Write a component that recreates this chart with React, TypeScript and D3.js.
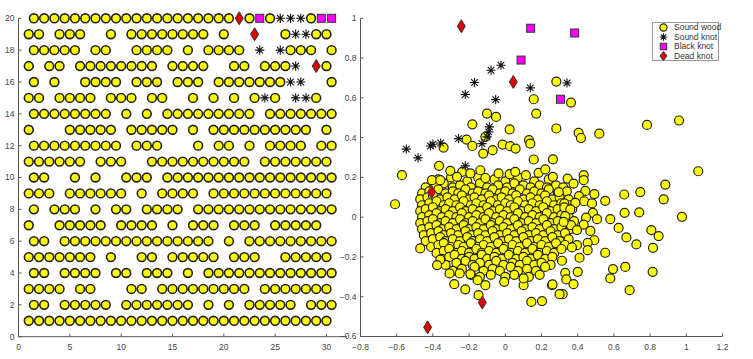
import React from 'react';
import * as d3 from 'd3';

// ---------- Left panel: grid of samples (row 20 first). start x = 1.5 for even rows, 1 for odd rows
// o = sound wood, * = sound knot, s = black knot, d = dead knot, . = empty
const gridRowNumbers = [20, 19, 18, 17, 16, 15, 14, 13, 12, 11, 10, 9, 8, 7, 6, 5, 4, 3, 2, 1];
const gridRows = [
  'oooooooooooooooooooodoso***oss',
  'oo.ooo..o.oooooooo.o..d..o**oo',
  'ooooo.oo..oooo.o.oooo.*.*ooo.o',
  'o.oo.oooooooo.oooo..oo.ooo*.do',
  'o.o..oooo.ooo.ooo.ooooooo**..o',
  'oo.oooo.ooo.oo..o.o.o.o*o.**o.',
  'oooooooo.o.o.ooooooooo.ooooooo',
  'o...ooooo.ooooo.o.oooooooooo.o',
  'ooooooooo.ooo...o.oo.o.oooo.oo',
  'oooooo.ooo..oooooooooo.ooooooo',
  'oo..o.o..ooo.ooooooooooooooooo',
  'ooo.oooooo.o.oooo.oooooooooooo',
  'o.ooo.o.oo.oooo.oooooooooooooo',
  'o..ooooo.oooo.o.ooo.ooo.ooooo.',
  'oo.ooooooooooooooo.o.ooooooooo',
  'ooooooo.o..oo.ooooo.ooo..ooooo',
  'oo.oooo.oo.ooo.o.ooooooooooooo',
  'oooo.oo...oo.ooooooooo.ooooooo',
  'oo.ooooo.ooooooo.o.o.ooooo.ooo',
  'oooooooooooooooooooooooooooooo',
];
const gridXTicks = [0, 5, 10, 15, 20, 25, 30];
const gridYTicks = [0, 2, 4, 6, 8, 10, 12, 14, 16, 18, 20];

// ---------- Right panel: scatter
const soundWoodOuter: [number, number][] = [
  [0.282,0.682],[0.157,0.593],[0.171,0.521],[-0.101,0.521],[-0.051,0.504],[-0.182,0.467],[0.282,0.446],[0.024,0.441],
  [-0.11,0.404],[-0.214,0.39],[0.131,0.387],[0.138,0.37],[-0.182,0.358],[-0.341,0.35],[-0.015,0.365],[0.026,0.357],
  [0.057,0.345],[-0.07,0.337],[-0.122,0.32],[0.157,0.29],[0.263,0.291],[-0.366,0.258],[-0.571,0.211],[-0.304,0.233],
  [-0.238,0.228],[-0.193,0.22],[-0.138,0.236],[-0.037,0.22],[0.024,0.216],[0.055,0.228],[0.114,0.211],[0.184,0.223],
  [0.221,0.24],[0.263,0.203],[-0.405,0.186],[-0.359,0.186],[-0.267,0.203],[-0.11,0.197],
  [0.363,0.576],[0.405,0.424],[0.418,0.398],[0.519,0.42],[0.783,0.464],[0.96,0.486],[1.066,0.231],[0.344,0.194],[0.433,0.211],
  [0.433,0.186],[0.377,0.169],[0.884,0.164],[0.746,0.126],[0.657,0.114],[0.875,0.09],[0.295,0.126],[0.442,0.132],
  [0.492,0.116],[0.407,0.106],[0.552,0.082],[0.436,0.08],[0.387,0.072],[0.479,0.069],[0.326,0.069],[0.326,0.049],
  [0.359,0.039],[0.484,0.022],[0.659,0.022],[0.74,0.024],[0.976,0.002],[0.58,-0.01],[0.507,-0.01],[0.446,-0.002],
  [0.331,0.005],[0.363,-0.04],[0.433,-0.037],[0.322,-0.024],[0.626,-0.054],[0.807,-0.065],[0.847,-0.095],[0.47,-0.069],
  [0.396,-0.065],[0.669,-0.102],[0.724,-0.137],[0.816,-0.154],[0.492,-0.116],[0.455,-0.129],[0.455,-0.166],[0.396,-0.141],
  [0.368,-0.152],[0.41,-0.204],[0.552,-0.179],[0.313,-0.219],[0.595,-0.261],[0.663,-0.25],[0.814,-0.275],[0.58,-0.308],
  [0.4,-0.275],[0.331,-0.28],[0.337,-0.313],[0.377,-0.337],[0.258,-0.342],[0.687,-0.367],[0.317,-0.387],
  [-0.609,0.065],[-0.47,-0.157],[-0.359,-0.213],[-0.377,-0.241],[-0.308,-0.283],[-0.252,-0.283],[-0.282,-0.337],
  [-0.221,-0.363],[-0.148,-0.392],[-0.11,-0.342],[-0.153,-0.317],[-0.193,-0.286],[-0.006,-0.325],[0.101,-0.342],
  [0.144,-0.426],[0.203,-0.422],[0.261,-0.338],[0.3,-0.387],[0.101,-0.308],
];
const soundWoodCore: [number, number][] = [
  [-0.37,0.19],[-0.3,0.2],[-0.21,0.18],[-0.15,0.2],[-0.06,0.19],[0.0,0.18],[0.07,0.2],[0.16,0.18],[0.24,0.19],
  [-0.44,0.15],[-0.39,0.16],[-0.34,0.17],[-0.29,0.15],[-0.25,0.16],[-0.19,0.15],[-0.14,0.17],[-0.1,0.15],[-0.04,0.16],
  [0.01,0.15],[0.05,0.17],[0.1,0.16],[0.14,0.15],[0.19,0.16],[0.23,0.15],[0.28,0.16],[0.32,0.15],
  [-0.46,0.12],[-0.42,0.13],[-0.37,0.14],[-0.33,0.12],[-0.29,0.13],[-0.26,0.12],[-0.22,0.14],[-0.18,0.12],[-0.15,0.13],
  [-0.11,0.12],[-0.07,0.14],[-0.03,0.12],[0.0,0.13],[0.04,0.12],[0.08,0.14],[0.12,0.12],[0.16,0.13],[0.2,0.12],
  [0.24,0.14],[0.29,0.12],[0.34,0.13],
  [-0.47,0.09],[-0.43,0.1],[-0.4,0.11],[-0.36,0.09],[-0.32,0.1],[-0.28,0.09],[-0.24,0.11],[-0.2,0.09],[-0.17,0.1],
  [-0.13,0.09],[-0.09,0.11],[-0.05,0.09],[-0.02,0.1],[0.02,0.09],[0.06,0.11],[0.1,0.09],[0.14,0.1],[0.18,0.09],
  [0.22,0.11],[0.26,0.09],[0.3,0.1],[0.35,0.09],
  [-0.46,0.06],[-0.42,0.07],[-0.38,0.08],[-0.34,0.06],[-0.31,0.07],[-0.27,0.06],[-0.23,0.08],[-0.19,0.06],[-0.16,0.07],
  [-0.12,0.06],[-0.08,0.08],[-0.04,0.06],[0.0,0.07],[0.03,0.06],[0.07,0.08],[0.11,0.06],[0.15,0.07],[0.19,0.06],
  [0.23,0.08],[0.27,0.06],[0.31,0.07],[0.36,0.06],
  [-0.47,0.03],[-0.44,0.04],[-0.4,0.05],[-0.36,0.03],[-0.33,0.04],[-0.29,0.03],[-0.25,0.05],[-0.22,0.03],[-0.18,0.04],
  [-0.14,0.03],[-0.1,0.05],[-0.07,0.03],[-0.03,0.04],[0.01,0.03],[0.05,0.05],[0.09,0.03],[0.13,0.04],[0.17,0.03],
  [0.21,0.05],[0.25,0.03],[0.29,0.04],[0.33,0.03],[0.37,0.04],
  [-0.46,0.0],[-0.42,0.01],[-0.38,0.02],[-0.35,0.0],[-0.31,0.01],[-0.27,0.0],[-0.24,0.02],[-0.2,0.0],[-0.16,0.01],
  [-0.12,0.0],[-0.09,0.02],[-0.05,0.0],[-0.01,0.01],[0.03,0.0],[0.07,0.02],[0.11,0.0],[0.15,0.01],[0.19,0.0],
  [0.23,0.02],[0.27,0.0],[0.31,0.01],[0.35,0.0],
  [-0.47,-0.03],[-0.43,-0.02],[-0.4,-0.01],[-0.36,-0.03],[-0.33,-0.02],[-0.29,-0.03],[-0.25,-0.01],[-0.22,-0.03],
  [-0.18,-0.02],[-0.14,-0.03],[-0.11,-0.01],[-0.07,-0.03],[-0.03,-0.02],[0.01,-0.03],[0.05,-0.01],[0.09,-0.03],
  [0.13,-0.02],[0.17,-0.03],[0.21,-0.01],[0.25,-0.03],[0.29,-0.02],[0.34,-0.03],[0.38,-0.02],
  [-0.46,-0.06],[-0.42,-0.05],[-0.38,-0.04],[-0.35,-0.06],[-0.31,-0.05],[-0.27,-0.06],[-0.23,-0.04],[-0.2,-0.06],
  [-0.16,-0.05],[-0.12,-0.06],[-0.08,-0.04],[-0.05,-0.06],[-0.01,-0.05],[0.03,-0.06],[0.07,-0.04],[0.11,-0.06],
  [0.15,-0.05],[0.19,-0.06],[0.23,-0.04],[0.27,-0.06],[0.31,-0.05],[0.36,-0.06],
  [-0.45,-0.09],[-0.41,-0.08],[-0.37,-0.07],[-0.34,-0.09],[-0.3,-0.08],[-0.26,-0.09],[-0.22,-0.07],[-0.19,-0.09],
  [-0.15,-0.08],[-0.11,-0.09],[-0.07,-0.07],[-0.03,-0.09],[0.01,-0.08],[0.05,-0.09],[0.09,-0.07],[0.13,-0.09],
  [0.17,-0.08],[0.21,-0.09],[0.25,-0.07],[0.29,-0.09],[0.33,-0.08],
  [-0.44,-0.12],[-0.4,-0.11],[-0.36,-0.1],[-0.33,-0.12],[-0.29,-0.11],[-0.25,-0.12],[-0.21,-0.1],[-0.18,-0.12],
  [-0.14,-0.11],[-0.1,-0.12],[-0.06,-0.1],[-0.02,-0.12],[0.02,-0.11],[0.06,-0.12],[0.1,-0.1],[0.14,-0.12],
  [0.18,-0.11],[0.22,-0.12],[0.26,-0.1],[0.3,-0.12],[0.35,-0.11],
  [-0.41,-0.15],[-0.37,-0.14],[-0.34,-0.13],[-0.3,-0.15],[-0.26,-0.14],[-0.23,-0.15],[-0.19,-0.13],[-0.15,-0.15],
  [-0.12,-0.14],[-0.08,-0.15],[-0.04,-0.13],[0.0,-0.15],[0.04,-0.14],[0.08,-0.15],[0.12,-0.13],[0.16,-0.15],
  [0.2,-0.14],[0.24,-0.15],[0.28,-0.13],[0.33,-0.14],
  [-0.38,-0.18],[-0.34,-0.17],[-0.31,-0.16],[-0.27,-0.18],[-0.24,-0.17],[-0.2,-0.18],[-0.16,-0.16],[-0.13,-0.18],
  [-0.09,-0.17],[-0.05,-0.18],[-0.01,-0.16],[0.03,-0.18],[0.07,-0.17],[0.11,-0.18],[0.15,-0.16],[0.19,-0.18],
  [0.23,-0.17],[0.27,-0.18],[0.31,-0.16],
  [-0.35,-0.21],[-0.31,-0.2],[-0.28,-0.19],[-0.24,-0.21],[-0.2,-0.2],[-0.17,-0.21],[-0.13,-0.19],[-0.1,-0.21],
  [-0.06,-0.2],[-0.02,-0.21],[0.02,-0.19],[0.06,-0.21],[0.1,-0.2],[0.14,-0.21],[0.18,-0.19],[0.22,-0.21],[0.26,-0.2],
  [-0.33,-0.24],[-0.27,-0.23],[-0.22,-0.22],[-0.18,-0.24],[-0.14,-0.23],[-0.09,-0.24],[-0.05,-0.22],[-0.01,-0.24],
  [0.04,-0.23],[0.08,-0.24],[0.12,-0.22],[0.16,-0.24],[0.2,-0.23],[0.25,-0.24],
  [-0.29,-0.27],[-0.24,-0.26],[-0.17,-0.25],[-0.12,-0.27],[-0.07,-0.26],[-0.03,-0.27],[0.03,-0.25],[0.07,-0.27],
  [0.12,-0.26],[0.17,-0.27],[0.22,-0.25],
  [-0.19,-0.29],[-0.14,-0.3],[-0.08,-0.29],[0.0,-0.3],[0.05,-0.29],[0.13,-0.3],[0.19,-0.29],
];
const soundKnot: [number, number][] = [
  [-0.024,0.764],[-0.079,0.739],[-0.17,0.677],[-0.221,0.617],[0.138,0.65],[-0.053,0.591],[0.341,0.675],
  [-0.088,0.454],[-0.092,0.429],[-0.101,0.404],[-0.258,0.395],[-0.129,0.37],[-0.357,0.373],[-0.40,0.367],
  [-0.414,0.358],[-0.547,0.342],[-0.482,0.298],[-0.221,0.258],
];
const blackKnot: [number, number][] = [
  [0.14,0.95],[0.383,0.926],[0.087,0.79],[0.305,0.593],
];
const deadKnot: [number, number][] = [
  [-0.243,0.96],[0.044,0.68],[-0.407,0.127],[-0.127,-0.429],[-0.429,-0.554],
];
const scatterXTicks = [-0.8, -0.6, -0.4, -0.2, 0, 0.2, 0.4, 0.6, 0.8, 1, 1.2];
const scatterYTicks = [-0.6, -0.4, -0.2, 0, 0.2, 0.4, 0.6, 0.8, 1];
const legendLabels = ['Sound wood', 'Sound knot', 'Black knot', 'Dead knot'];

const YELLOW = '#ffff00';
const MAGENTA = '#ff00ff';
const RED = '#e00000';
const FONT = 'Liberation Sans, Arial, sans-serif';
const LABEL = '#444';

function Circle({ x, y, r = 4.4, sw = 1.6 }: { x: number; y: number; r?: number; sw?: number }) {
  return <circle cx={x} cy={y} r={r} fill={YELLOW} stroke="#222" strokeWidth={sw} />;
}
function Star({ x, y, s = 4.6 }: { x: number; y: number; s?: number }) {
  const d = s * 0.72;
  return (
    <path
      d={`M${x - s},${y}H${x + s}M${x},${y - s}V${y + s}M${x - d},${y - d}L${x + d},${y + d}M${x - d},${y + d}L${x + d},${y - d}`}
      stroke="#111" strokeWidth={1.1} fill="none"
    />
  );
}
function Square({ x, y, s = 8 }: { x: number; y: number; s?: number }) {
  return <rect x={x - s / 2} y={y - s / 2} width={s} height={s} fill={MAGENTA} stroke="#333" strokeWidth={1} />;
}
function Diamond({ x, y, w = 4, h = 6.5 }: { x: number; y: number; w?: number; h?: number }) {
  return <path d={`M${x},${y - h}L${x + w},${y}L${x},${y + h}L${x - w},${y}Z`} fill={RED} stroke="#333" strokeWidth={1} />;
}

export default function App() {
  // left panel scales
  const gx = d3.scaleLinear().domain([0, 32]).range([18.5, 347]);
  const gy = d3.scaleLinear().domain([0, 20]).range([336.7, 18.3]);
  // right panel scales
  const sx = d3.scaleLinear().domain([-0.8, 1.2]).range([360.5, 722.5]);
  const sy = d3.scaleLinear().domain([-0.6, 1]).range([336.5, 18.3]);

  const gridMarks: { t: string; x: number; y: number }[] = [];
  gridRows.forEach((row, i) => {
    const r = gridRowNumbers[i];
    const start = r % 2 === 0 ? 1.5 : 1;
    row.split('').forEach((c, j) => {
      if (c !== '.') gridMarks.push({ t: c, x: start + j, y: r });
    });
  });
  const order = ['o', '*', 's', 'd'];

  const soundWood = [...soundWoodCore, ...soundWoodOuter];

  return (
    <svg width={753} height={359} style={{ position: 'absolute', left: 0, top: 0, background: '#fff' }} fontFamily={FONT}>
      {/* ---------- left panel axes ---------- */}
      <g>
        <line x1={gx(0)} x2={gx(0)} y1={gy(0)} y2={gy(20)} stroke="#555" strokeWidth={1} />
        <line x1={gx(0)} x2={gx(32)} y1={gy(0)} y2={gy(0)} stroke="#555" strokeWidth={1} />
        {gridYTicks.map((t) => (
          <g key={'gy' + t}>
            <line x1={gx(0)} x2={gx(0) + 3} y1={gy(t)} y2={gy(t)} stroke="#555" />
            <text x={gx(0) - 4} y={gy(t)} dy="0.35em" textAnchor="end" fontSize={8.5} fill={LABEL}>{t}</text>
          </g>
        ))}
        {gridXTicks.map((t) => (
          <g key={'gx' + t}>
            <line x1={gx(t)} x2={gx(t)} y1={gy(0)} y2={gy(0) - 3} stroke="#555" />
            <text x={gx(t)} y={gy(0) + 13} textAnchor="middle" fontSize={8.5} fill={LABEL}>{t}</text>
          </g>
        ))}
        {order.map((k) =>
          gridMarks.filter((m) => m.t === k).map((m, i) => {
            const X = gx(m.x), Y = gy(m.y);
            if (k === 'o') return <Circle key={k + i} x={X} y={Y} />;
            if (k === '*') return <Star key={k + i} x={X} y={Y} />;
            if (k === 's') return <Square key={k + i} x={X} y={Y} />;
            return <Diamond key={k + i} x={X} y={Y} />;
          })
        )}
      </g>

      {/* ---------- right panel ---------- */}
      <g>
        <line x1={sx(-0.8)} x2={sx(-0.8)} y1={sy(-0.6)} y2={sy(1)} stroke="#555" strokeWidth={1} />
        <line x1={sx(-0.8)} x2={sx(1.2)} y1={sy(-0.6)} y2={sy(-0.6)} stroke="#555" strokeWidth={1} />
        {scatterYTicks.map((t) => (
          <g key={'sy' + t}>
            <line x1={sx(-0.8)} x2={sx(-0.8) + 3} y1={sy(t)} y2={sy(t)} stroke="#555" />
            <text x={sx(-0.8) - 4} y={sy(t)} dy="0.35em" textAnchor="end" fontSize={8.5} fill={LABEL}>{d3.format('~g')(t)}</text>
          </g>
        ))}
        {scatterXTicks.map((t) => (
          <g key={'sx' + t}>
            <line x1={sx(t)} x2={sx(t)} y1={sy(-0.6)} y2={sy(-0.6) - 3} stroke="#555" />
            <text x={sx(t)} y={sy(-0.6) + 13} textAnchor="middle" fontSize={8.5} fill={LABEL}>{d3.format('~g')(t)}</text>
          </g>
        ))}
        {soundWood.map(([x, y], i) => <Circle key={'w' + i} x={sx(x)} y={sy(y)} r={4.5} sw={1.2} />)}
        {soundKnot.map(([x, y], i) => <Star key={'k' + i} x={sx(x)} y={sy(y)} />)}
        {blackKnot.map(([x, y], i) => <Square key={'b' + i} x={sx(x)} y={sy(y)} />)}
        {deadKnot.map(([x, y], i) => <Diamond key={'d' + i} x={sx(x)} y={sy(y)} />)}

        {/* legend */}
        <rect x={652.5} y={22.5} width={66} height={38} fill="#fff" stroke="#999" strokeWidth={1} />
        {legendLabels.map((l, i) => {
          const Y = 27.5 + i * 9.5;
          const X = 663.5;
          return (
            <g key={l}>
              {i === 0 && <Circle x={X} y={Y} r={3.6} sw={1.2} />}
              {i === 1 && <Star x={X} y={Y} s={3.8} />}
              {i === 2 && <Square x={X} y={Y} s={6.5} />}
              {i === 3 && <Diamond x={X} y={Y} w={3.5} h={4.5} />}
              <text x={674} y={Y} dy="0.35em" fontSize={8.5} fill="#333">{l}</text>
            </g>
          );
        })}
      </g>
    </svg>
  );
}
